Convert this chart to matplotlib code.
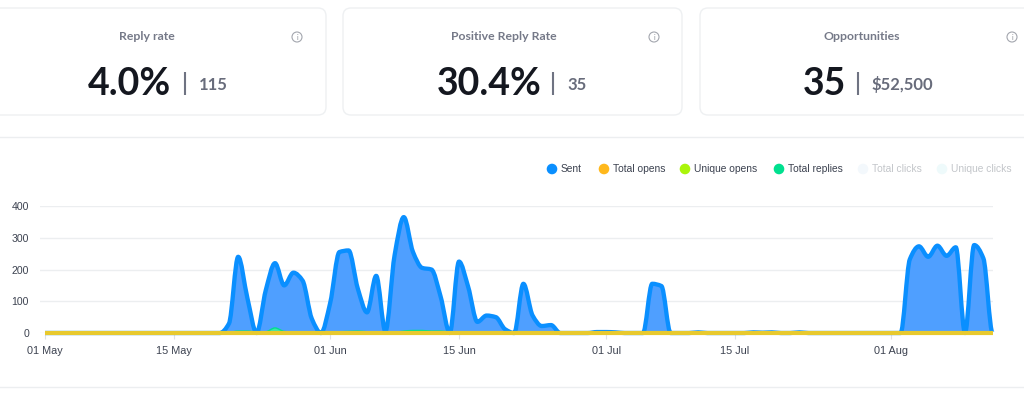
import numpy as np
import matplotlib
matplotlib.use("Agg")
import matplotlib.pyplot as plt
from matplotlib.patches import FancyBboxPatch, Circle, PathPatch
from matplotlib.path import Path

# one value per day, 01 May -> 12 Aug
sent = [0]*19 + [0, 30, 240, 110, 0, 135, 220, 150, 190, 165, 45, 0, 95, 255, 260, 140, 65, 180, 5,
       245, 365, 255, 205, 200, 115, 0, 225, 145, 35, 55, 50, 12, 0, 155, 55, 22, 25, 0,
       0, 0, 0, 3, 3, 2, 0, 0, 0, 155, 148, 0, 0, 0, 2, 0, 0, 0, 0, 0, 2, 1, 2, 0, 0, 2, 0,
       0, 0, 0, 0, 0, 0, 0, 0, 0, 0, 232, 273, 240, 275, 243, 270, 0, 277, 235, 0]
replies = [0]*20 + [2, 6, 6, 3, 4, 16, 5, 3, 3, 3, 2, 2, 4, 5, 6, 4, 3, 3, 3, 6, 8, 8, 6, 6, 3, 1,
          3, 3, 1, 1, 1, 0, 0, 3, 2, 1, 1, 0] + [0]*36 + [2, 3, 3, 3, 3, 4, 1, 4, 3, 0]
opens = [0]*len(sent)

tick_days = [0, 14, 31, 45, 61, 75, 92]
tick_labels = ["01 May", "15 May", "01 Jun", "15 Jun", "01 Jul", "15 Jul", "01 Aug"]
y_ticks = [0, 100, 200, 300, 400]

legend_names = ["Sent", "Total opens", "Unique opens", "Total replies", "Total clicks", "Unique clicks"]
legend_colors = ["#0a8fff", "#ffb81c", "#aaf50a", "#00e08f", "#f3f8fc", "#eefafb"]
legend_x = [552, 604, 685, 779, 863, 942]

card_titles = ["Reply rate", "Positive Reply Rate", "Opportunities"]
card_big = ["4.0%", "30.4%", "35"]
card_small = ["115", "35", "$52,500"]


def smooth_path(x, y):
    # monotone bezier through the points, like the chart's curve
    x = np.asarray(x, float)
    y = np.asarray(y, float)
    d = np.diff(y) / np.diff(x)
    m = np.zeros(len(y))
    for i in range(1, len(y) - 1):
        if d[i-1] * d[i] > 0:
            m[i] = 2 * d[i-1] * d[i] / (d[i-1] + d[i])
    verts = [(x[0], y[0])]
    codes = [Path.MOVETO]
    for i in range(len(x) - 1):
        h = (x[i+1] - x[i]) / 3
        verts += [(x[i] + h, y[i] + m[i]*h), (x[i+1] - h, y[i+1] - m[i+1]*h), (x[i+1], y[i+1])]
        codes += [Path.CURVE4]*3
    return verts, codes


def add_area(ax, x, y, line, fill, lw):
    verts, codes = smooth_path(x, y)
    ax.add_patch(PathPatch(Path(verts + [(x[-1], 0), (x[0], 0)], codes + [Path.LINETO, Path.LINETO]),
                           fc=fill, ec="none", clip_on=False, zorder=3))
    ax.add_patch(PathPatch(Path(verts, codes), fc="none", ec=line, lw=lw, clip_on=False,
                           capstyle="butt", joinstyle="round", zorder=3))


W, H = 1024, 394
fig = plt.figure(figsize=(W/100, H/100), dpi=100, facecolor="white")

# page layer in pixel coordinates
bg = fig.add_axes([0, 0, 1, 1])
bg.set_xlim(0, W)
bg.set_ylim(H, 0)
bg.axis("off")

card_x = [(-20, 326), (343, 682), (700, 1050)]
title_x = [147, 504, 862]
info_x = [297, 654, 1012]
big_x = [129.5, 489, 825]
bar_x = [185, 553, 858]
small_x = [199, 567, 872]
for i in range(3):
    x0, x1 = card_x[i]
    bg.add_patch(FancyBboxPatch((x0 + 6, 14), x1 - x0 - 12, 95, boxstyle="round,pad=6,rounding_size=8",
                                mutation_aspect=1, fc="white", ec="#eef0f2", lw=1))
    bg.text(title_x[i], 36, card_titles[i], ha="center", va="center", family="Lato", weight="bold",
            fontsize=8.8, color="#757988")
    bg.text(big_x[i], 95, card_big[i], ha="center", va="baseline", family="Lato", weight="bold",
            fontsize=27, color="#14171f")
    bg.plot([bar_x[i], bar_x[i]], [72, 95], color="#6f7382", lw=1.5, solid_capstyle="butt")
    bg.text(small_x[i], 89.5, card_small[i], ha="left", va="baseline", family="Lato", weight="bold",
            fontsize=12, color="#686c7b")
    bg.add_patch(Circle((info_x[i], 37), 5, fc="white", ec="#a3a6ae", lw=0.8))
    bg.text(info_x[i], 37, "i", ha="center", va="center", fontsize=5, color="#8d9099", family="Lato")

bg.plot([0, W], [136.5, 136.5], color="#eceef0", lw=1)
bg.plot([0, W], [386.5, 386.5], color="#eceef0", lw=1)

# legend
for i, name in enumerate(legend_names):
    c = legend_colors[i]
    bg.add_patch(Circle((legend_x[i], 169), 5.3, fc=c, ec="none"))
    bg.text(legend_x[i] + 9, 169, name, ha="left", va="center", family="Liberation Sans", fontsize=7.35,
            color="#3c4250" if i < 4 else "#c3c6ca")

# chart
left, right, top, bottom = 40, 993, 206, 333
days = np.arange(len(sent))
px_per_day = 9.2
ax = fig.add_axes([left/W, 1 - bottom/H, (right - left)/W, (bottom - top)/H])
ax.patch.set_alpha(0)
ax.set_xlim(-(45 - left)/px_per_day, (right - 45)/px_per_day)
ax.set_ylim(0, 400)
for s in ax.spines.values():
    s.set_visible(False)
ax.set_yticks(y_ticks)
ax.set_yticklabels([str(v) for v in y_ticks], family="Liberation Sans", fontsize=7.6, color="#3c4250")
ax.set_xticks(tick_days)
ax.set_xticklabels(tick_labels, family="Liberation Sans", fontsize=7.8, color="#3c4250")
ax.tick_params(axis="y", length=0, pad=8)
ax.tick_params(axis="x", length=4, width=0.8, color="#dfe1e4", pad=5)
ax.grid(axis="y", color="#eceef0", lw=1)
ax.set_axisbelow(True)

add_area(ax, days, sent, "#0a8fff", "#4f9fff", 3.1)
add_area(ax, days, replies, "#00e08f", "#3fe7a8", 1.0)
ax.plot(days, opens, color="#e8c92e", lw=3.0, clip_on=False, zorder=5, solid_capstyle="butt")

fig.savefig("out.png", dpi=100)
